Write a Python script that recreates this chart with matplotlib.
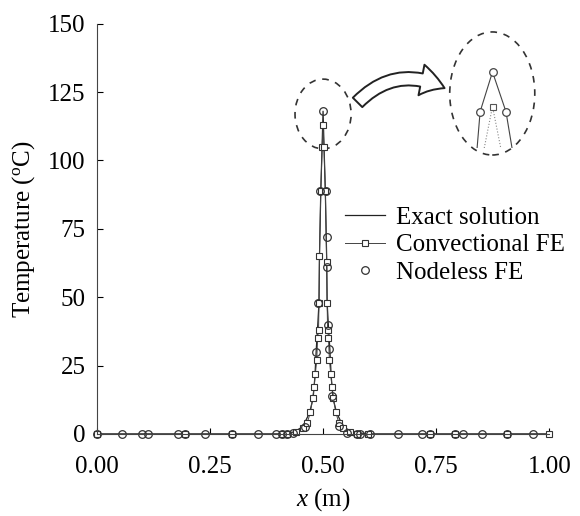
import matplotlib
matplotlib.use('Agg')
import matplotlib.pyplot as plt
from matplotlib.patches import Ellipse, FancyArrowPatch

plt.rcParams['font.family'] = ['Liberation Serif', 'DejaVu Serif']
plt.rcParams['mathtext.fontset'] = 'custom'
plt.rcParams['mathtext.rm'] = 'Liberation Serif'
plt.rcParams['mathtext.it'] = 'Liberation Serif:italic'

# exact solution
x_exact = [0.0, 0.40, 0.435, 0.455, 0.47, 0.478, 0.482, 0.485, 0.488, 0.491, 0.492,
           0.495, 0.498, 0.5, 0.502, 0.505, 0.508, 0.509, 0.512, 0.515, 0.518, 0.522,
           0.53, 0.545, 0.565, 0.60, 1.0]
t_exact = [0.0, 0.0, 0.7, 2.6, 7.7, 13, 21, 31, 39, 48, 64,
           89, 106, 118, 106, 89, 64, 48, 39, 31, 21, 13,
           7.7, 2.6, 0.7, 0.0, 0.0]

# conventional FE (squares)
x_conv = [0.0, 0.195, 0.298, 0.41, 0.42, 0.44, 0.455, 0.465, 0.472, 0.477, 0.48,
          0.483, 0.486, 0.488, 0.490, 0.491, 0.492, 0.495, 0.498, 0.5, 0.502, 0.505,
          0.508, 0.509, 0.51, 0.512, 0.514, 0.517, 0.52, 0.523, 0.528, 0.535, 0.545,
          0.56, 0.575, 0.60, 0.737, 0.792, 0.906, 1.0]
t_conv = [0.0, 0.0, 0.0, 0.0, 0.0, 0.7, 2.0, 4.0, 8.0, 13, 17,
          22, 27, 35, 38, 48, 65, 89, 105, 113, 105, 89,
          63, 48, 38, 35, 27, 22, 17, 13, 8.0, 4.0, 2.0,
          0.7, 0.0, 0.0, 0.0, 0.0, 0.0, 0.0]

# nodeless FE (circles)
x_node = [0.0, 0.055, 0.099, 0.113, 0.18, 0.195, 0.239, 0.298, 0.357, 0.397, 0.41,
          0.42, 0.434, 0.46, 0.485, 0.489, 0.494, 0.5, 0.506, 0.509, 0.509, 0.512,
          0.514, 0.52, 0.535, 0.552, 0.575, 0.582, 0.604, 0.666, 0.718, 0.737, 0.792,
          0.81, 0.851, 0.906, 0.965]
t_node = [0.0, 0.0, 0.0, 0.0, 0.0, 0.0, 0.0, 0.0, 0.0, 0.0, 0.0,
          0.0, 0.5, 2.5, 30, 48, 89, 118, 89, 72, 61, 40,
          31, 14, 3.0, 0.3, 0.0, 0.0, 0.0, 0.0, 0.0, 0.0, 0.0,
          0.0, 0.0, 0.0, 0.0]

# zoomed peak shown in the inset
x_zoom = [0.4944, 0.4955, 0.5, 0.5049, 0.5071]
t_zoom_exact = [96, 106.5, 118, 106.5, 96]
x_zoom_conv = [0.497, 0.5, 0.503]
t_zoom_conv = [96, 108, 96]
x_zoom_node = [0.4955, 0.5, 0.5049]
t_zoom_node = [106.5, 118, 106.5]

y_ticks = [0, 25, 50, 75, 100, 125, 150]
x_ticks = [0.0, 0.25, 0.5, 0.75, 1.0]

fig = plt.figure(figsize=(5.8, 5.16), dpi=100)
ax = fig.add_axes([0.167, 0.159, 0.78, 0.795])

ax.plot(x_exact, t_exact, '-', color='#222222', lw=0.9, label='Exact solution')
ax.plot(x_conv, t_conv, '-', color='#444444', lw=0.7, marker='s', ms=5,
        mfc='white', mec='#333333', mew=0.8, label='Convectional FE', clip_on=False)
ax.plot(x_node, t_node, 'o', ms=5.5, mfc='none', mec='#333333', mew=0.9,
        label='Nodeless FE', clip_on=False)

ax.set_xlim(0, 1.0)
ax.set_ylim(0, 150)
ax.set_xticks(x_ticks)
ax.set_xticklabels(['%.2f' % v for v in x_ticks])
ax.set_yticks(y_ticks)
ax.tick_params(direction='in', labelsize=18, length=4, width=0.8)
ax.tick_params(axis='x', pad=16)
ax.tick_params(axis='y', pad=8)
ax.spines['top'].set_visible(False)
ax.spines['right'].set_visible(False)
for s in ['left', 'bottom']:
    ax.spines[s].set_linewidth(0.8)
    ax.spines[s].set_color('#444444')

ax.set_xlabel('$x$ (m)', fontsize=18, labelpad=6)
ax.set_ylabel('Temperature ($^{\\rm o}$C)', fontsize=18, labelpad=8)

ax.legend(loc='upper left', bbox_to_anchor=(0.52, 0.585), frameon=False,
          fontsize=18, handlelength=1.6, handletextpad=0.45, labelspacing=0.2,
          borderpad=0)

# dashed ellipse round the peak
ax.add_patch(Ellipse((0.50, 117.0), 0.124, 25.5, fill=False, ls=(0, (4, 4)),
                     lw=1.2, color='#333333'))
# dashed ellipse of the inset
ax.add_patch(Ellipse((0.874, 124.5), 0.188, 45, fill=False, ls=(0, (4, 4)),
                     lw=1.2, color='#333333', clip_on=False))
# hollow curved arrow
ax.add_patch(FancyArrowPatch((0.572, 120.5), (0.774, 126.0),
                             connectionstyle='arc3,rad=-0.38',
                             arrowstyle='simple,head_length=1.1,head_width=1.4,tail_width=0.6',
                             mutation_scale=16, fc='white', ec='#222222', lw=1.4))

# inset with zoomed peak
ins = fig.add_axes([465 / 580, 1 - 148 / 516, 55 / 580, 83 / 516])
ins.patch.set_alpha(0)
ins.axis('off')
ins.plot(x_zoom, t_zoom_exact, '-', color='#444444', lw=0.8)
ins.plot(x_zoom_conv, t_zoom_conv, ':', color='#888888', lw=0.8)
ins.plot([0.5], [108], 's', ms=5, mfc='white', mec='#555555', mew=0.8)
ins.plot(x_zoom_node, t_zoom_node, 'o', ms=5.5, mfc='white', mec='#444444', mew=0.9)
ins.set_xlim(0.490, 0.510)
ins.set_ylim(96, 120)

fig.savefig('out.png', dpi=100)
